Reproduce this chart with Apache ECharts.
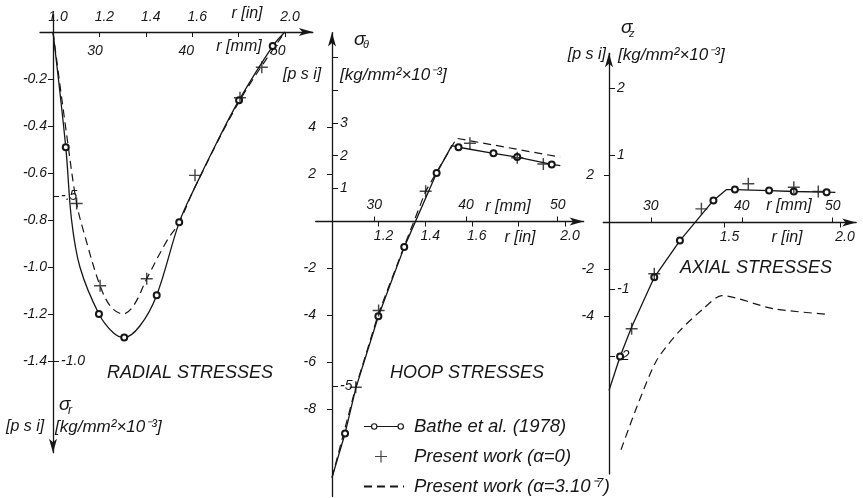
<!DOCTYPE html>
<html>
<head>
<meta charset="utf-8">
<script src="https://cdn.jsdelivr.net/npm/echarts@6/dist/echarts.min.js"></script>
<style>
  html, body { margin: 0; padding: 0; background: #fff; }
  #chart { width: 863px; height: 498px; }
</style>
</head>
<body>
<div id="chart"></div>
<script>
// Stress distributions across the wall: r in inches, stress in psi units.

// ---- radial stresses ----
const radialBathe = [[1.055, -0.49], [1.198, -1.20], [1.307, -1.30], [1.447, -1.12], [1.544, -0.81], [1.802, -0.29], [1.947, -0.06]];
const radialBatheTrace = [[1.0, 0], [1.08, -0.80], [1.116, -1.00], [1.26, -1.28], [1.375, -1.25], [1.612, -0.66], [1.706, -0.47], [2.0, 0]];
const radialPresent = [[1.102, -0.73], [1.203, -1.08], [1.404, -1.05], [1.612, -0.61], [1.806, -0.28], [1.90, -0.15]];
const radialAlpha = [[1.0, 0], [1.062, -0.46], [1.102, -0.73], [1.138, -0.87], [1.203, -1.08], [1.25, -1.17], [1.303, -1.20], [1.35, -1.16], [1.404, -1.05], [1.49, -0.89], [1.544, -0.81], [1.612, -0.66], [1.806, -0.29], [2.0, 0]];

// ---- hoop stresses ----
const hoopBathe = [[1.056, -9.02], [1.199, -4.03], [1.31, -1.09], [1.449, 2.06], [1.543, 3.16], [1.693, 2.90], [1.795, 2.74], [1.943, 2.43]];
const hoopBatheTrace = [[1.0, -10.9], [1.102, -7.1], [1.514, 3.23], [1.98, 2.38]];
const hoopPresent = [[1.102, -7.05], [1.20, -3.79], [1.402, 1.29], [1.592, 3.33], [1.795, 2.71], [1.907, 2.45]];
const hoopAlpha = [[1.0, -10.9], [1.102, -7.05], [1.20, -3.90], [1.31, -1.05], [1.402, 1.29], [1.449, 2.10], [1.535, 3.54], [1.979, 2.74]];

// ---- axial stresses ----
const axialBathe = [[1.048, -5.70], [1.196, -2.33], [1.307, -0.77], [1.452, 0.94], [1.545, 1.40], [1.693, 1.36], [1.80, 1.32], [1.942, 1.29]];
const axialBatheTrace = [[1.0, -7.15], [1.098, -4.45], [1.509, 1.40], [1.98, 1.28]];
const axialPresent = [[1.098, -4.52], [1.196, -2.18], [1.40, 0.58], [1.603, 1.65], [1.80, 1.50], [1.906, 1.32]];
const axialAlpha = [[1.052, -9.67], [1.12, -7.86], [1.206, -5.87], [1.307, -4.60], [1.408, -3.67], [1.488, -3.11], [1.711, -3.67], [1.95, -3.91]];

// ---- tick labels ----
const radialInLabels = [1.0, 1.2, 1.4, 1.6, 2.0];
const radialInTicks = [1.2, 1.4, 1.6, 1.8, 2.0];
const radialMmLabels = [30, 40, 50];
const radialPsiLabels = [-0.2, -0.4, -0.6, -0.8, -1.0, -1.2, -1.4];
const radialKgLabels = [-0.5, -1.0];

const hoopInLabels = [1.2, 1.4, 1.6, 2.0];
const hoopInTicks = [1.2, 1.4, 1.6, 1.8, 2.0];
const hoopMmLabels = [30, 40, 50];
const hoopPsiLabels = [4, 2, -2, -4, -6, -8];
const hoopKgLabels = [3, 2, 1, -5];
const hoopKgTicks = [5, 4, 3, 2, 1, -5];

const axialInLabels = [1.5, 2.0];
const axialMmLabels = [30, 40, 50];
const axialPsiLabels = [2, -2, -4];
const axialKgLabels = [2, 1, -1, -2];

const NAME_BATHE = 'Bathe et al. (1978)';
const NAME_P0 = 'Present work (α=0)';
const NAME_P3 = 'Present work (α=3.10⁻⁷)';

const FONT = "'Liberation Sans', Arial, sans-serif";
const INK = '#161616';
const MM_PER_IN = 25.4;
const CROSS = 'path://M4.4,0H5.6V4.4H10V5.6H5.6V10H4.4V5.6H0V4.4H4.4Z';
// legend glyphs laid out on a 40 x 14 box
const RING_LINE = 'path://M0,6.4H6.8V7.6H0Z' +
  'M6.8,7a3.2,3.2 0 1,0 6.4,0a3.2,3.2 0 1,0 -6.4,0Z' +
  'M7.9,7a2.1,2.1 0 1,1 4.2,0a2.1,2.1 0 1,1 -4.2,0Z' +
  'M13.2,6.4H32.8V7.6H13.2Z' +
  'M32.8,7a3.2,3.2 0 1,0 6.4,0a3.2,3.2 0 1,0 -6.4,0Z' +
  'M33.9,7a2.1,2.1 0 1,1 4.2,0a2.1,2.1 0 1,1 -4.2,0Z';
const CROSS_ICON = 'path://M0,0h0.01v0.01h-0.01Z' +
  'M16.4,1H17.6V6.4H23V7.6H17.6V13H16.4V7.6H11V6.4H16.4Z' +
  'M39.99,13.99h0.01v0.01h-0.01Z';

// frame of each panel: pixel of r = 1.0 in, px per inch, pixel of zero stress, px per psi unit
const panels = [
  { x1: 53, ppi: 232, xLo: 0.944, xHi: 2.12, y0: 32, ppu: 235, yLo: -1.79, yHi: 0.075, kgRatio: 1.4,
    inPos: 'top', mmPos: 'bottom', arrowUp: false, psiMargin: 6,
    inLabels: radialInLabels, inTicks: radialInTicks, mmLabels: radialMmLabels, mmTicks: [],
    psiLabels: radialPsiLabels, kgLabels: radialKgLabels, kgTicks: radialKgLabels,
    psiFmt: v => v.toFixed(1), kgFmt: v => (v === -0.5 ? '-.5' : v.toFixed(1)), inMargin: 8, mmMargin: 12,
    bathe: radialBathe, trace: radialBatheTrace, present: radialPresent, alpha: radialAlpha, smooth: 0.35, alphaSmooth: 0.35 },
  { x1: 332, ppi: 233, xLo: 0.93, xHi: 2.08, y0: 221.5, ppu: 23.5, yLo: -11.7, yHi: 8.04, kgRatio: 1.4,
    inPos: 'bottom', mmPos: 'top', arrowUp: true, psiMargin: 16,
    inLabels: hoopInLabels, inTicks: hoopInTicks, mmLabels: hoopMmLabels, mmTicks: hoopMmLabels,
    psiLabels: hoopPsiLabels, kgLabels: hoopKgLabels, kgTicks: hoopKgTicks,
    psiFmt: v => String(v), kgFmt: v => String(v), inMargin: 8, mmMargin: 9,
    bathe: hoopBathe, trace: hoopBatheTrace, present: hoopPresent, alpha: hoopAlpha, smooth: 0, alphaSmooth: 0 },
  { x1: 609, ppi: 231, xLo: 0.975, xHi: 2.07, y0: 222.5, ppu: 23.5, yLo: -10.7, yHi: 7.2, kgRatio: 2.85,
    inPos: 'bottom', mmPos: 'top', arrowUp: true, psiMargin: 15,
    inLabels: axialInLabels, inTicks: axialInLabels, mmLabels: axialMmLabels, mmTicks: axialMmLabels,
    psiLabels: axialPsiLabels, kgLabels: axialKgLabels, kgTicks: axialKgLabels,
    psiFmt: v => String(v), kgFmt: v => String(v), inMargin: 8, mmMargin: 9,
    bathe: axialBathe, trace: axialBatheTrace, present: axialPresent, alpha: axialAlpha, smooth: 0, alphaSmooth: 0.25 }
];

const labelStyle = { fontFamily: FONT, fontStyle: 'italic', fontSize: 14, color: INK };
const lineStyle = { color: INK, width: 1.3 };

const grids = [], xAxes = [], yAxes = [], series = [];

// offset that brings a top/bottom x axis onto the zero-stress line
function zeroOffset(p, pos) {
  return pos === 'top' ? -p.yHi * p.ppu : p.yLo * p.ppu;
}

panels.forEach((p, i) => {
  grids.push({
    left: p.x1 + (p.xLo - 1) * p.ppi,
    width: (p.xHi - p.xLo) * p.ppi,
    top: p.y0 - p.yHi * p.ppu,
    height: (p.yHi - p.yLo) * p.ppu,
    containLabel: false,
    outerBoundsMode: 'none'
  });
  const yOffset = -(1 - p.xLo) * p.ppi;

  // radius in inches (carries the arrow)
  xAxes.push({
    gridIndex: i, type: 'value', min: p.xLo, max: p.xHi, position: p.inPos, offset: zeroOffset(p, p.inPos),
    axisLine: { onZero: false, symbol: ['none', 'arrow'], symbolSize: [6, 14], lineStyle },
    axisTick: { customValues: p.inTicks, length: 5, inside: i === 0, lineStyle: { color: INK, width: 1 } },
    axisLabel: Object.assign({ customValues: p.inLabels, formatter: v => v.toFixed(1), margin: p.inMargin, padding: [0, 0, 0, 10] }, labelStyle),
    splitLine: { show: false }
  });
  // radius in millimetres
  xAxes.push({
    gridIndex: i, type: 'value', min: p.xLo * MM_PER_IN, max: p.xHi * MM_PER_IN, position: p.mmPos, offset: zeroOffset(p, p.mmPos),
    axisLine: { show: false, onZero: false },
    axisTick: { show: p.mmTicks.length > 0, customValues: p.mmTicks, length: 5, lineStyle: { color: INK, width: 1 } },
    axisLabel: Object.assign({ customValues: p.mmLabels, formatter: v => String(v), margin: p.mmMargin }, labelStyle),
    splitLine: { show: false }
  });
  // stress in psi
  yAxes.push({
    gridIndex: i, type: 'value', min: p.yLo, max: p.yHi, position: 'left', offset: yOffset,
    axisLine: { onZero: false, symbol: p.arrowUp ? ['none', 'arrow'] : ['arrow', 'none'], symbolSize: [6, 14], lineStyle },
    axisTick: { customValues: p.psiLabels, length: 5, lineStyle: { color: INK, width: 1 } },
    axisLabel: Object.assign({ customValues: p.psiLabels, formatter: p.psiFmt, margin: p.psiMargin }, labelStyle),
    splitLine: { show: false }
  });
  // stress in kg/mm2
  yAxes.push({
    gridIndex: i, type: 'value', min: p.yLo / p.kgRatio, max: p.yHi / p.kgRatio, position: 'left', offset: yOffset,
    axisLine: { show: false, onZero: false },
    axisTick: { customValues: p.kgTicks, inside: true, length: 6, lineStyle: { color: INK, width: 1 } },
    axisLabel: Object.assign({ customValues: p.kgLabels, formatter: p.kgFmt, inside: true, margin: 8 }, labelStyle),
    splitLine: { show: false }
  });

  const batheData = p.bathe.map(v => ({ value: v }))
    .concat(p.trace.map(v => ({ value: v, symbol: 'none' })))
    .sort((a, b) => a.value[0] - b.value[0]);

  series.push({
    name: NAME_BATHE, type: 'line', xAxisIndex: 2 * i, yAxisIndex: 2 * i,
    data: batheData, smooth: p.smooth, symbol: 'emptyCircle', symbolSize: 6, showAllSymbol: true,
    lineStyle: { color: INK, width: 1.3 }, itemStyle: { color: INK, borderWidth: 1 }, z: 3
  });
  series.push({
    name: NAME_P0, type: 'scatter', xAxisIndex: 2 * i, yAxisIndex: 2 * i,
    data: p.present, symbol: CROSS, symbolSize: 12, itemStyle: { color: INK }, z: 4
  });
  series.push({
    name: NAME_P3, type: 'line', xAxisIndex: 2 * i, yAxisIndex: 2 * i,
    data: p.alpha, smooth: p.alphaSmooth, symbol: 'none',
    lineStyle: { color: INK, width: 1.2, type: [8, 5] }, itemStyle: { color: INK }, z: 2
  });
});

function txt(x, y, text, size, align) {
  return {
    type: 'text', x, y, silent: true,
    style: { text, fill: INK, font: `italic ${size}px ${FONT}`, align: align || 'left', verticalAlign: 'middle' }
  };
}

const graphic = [
  // panel titles
  txt(107, 373, 'RADIAL STRESSES', 18),
  txt(390, 373, 'HOOP STRESSES', 18),
  txt(680, 268, 'AXIAL STRESSES', 18),
  // radius captions
  txt(247, 14, 'r [in]', 16, 'center'),
  txt(239, 47, 'r [mm]', 16, 'center'),
  txt(508, 207, 'r [mm]', 16, 'center'),
  txt(520, 238, 'r [in]', 16, 'center'),
  txt(789, 206, 'r [mm]', 16, 'center'),
  txt(787, 238, 'r [in]', 16, 'center'),
  // stress captions
  txt(59, 405, 'σ', 19), txt(68, 411, 'r', 12),
  txt(6, 427, '[p s i]', 16), txt(55, 427, '[kg/mm²×10⁻³]', 17),
  txt(354, 40, 'σ', 19), txt(363, 45, 'θ', 11),
  txt(283, 75, '[p s i]', 16), txt(340, 75, '[kg/mm²×10⁻³]', 17),
  txt(621, 28, 'σ', 19), txt(629, 34, 'z', 11),
  txt(606, 55, '[p s i]', 16, 'right'), txt(618, 55, '[kg/mm²×10⁻³]', 17)
];

const chart = echarts.init(document.getElementById('chart'), null, { renderer: 'canvas' });
chart.setOption({
  backgroundColor: '#fff',
  animation: false,
  grid: grids,
  xAxis: xAxes,
  yAxis: yAxes,
  series,
  graphic,
  legend: {
    orient: 'vertical', left: 363, top: 417, padding: 0, itemWidth: 40, itemHeight: 14, itemGap: 11,
    selectedMode: false,
    data: [
      { name: NAME_BATHE, icon: RING_LINE, itemStyle: { color: INK } },
      { name: NAME_P0, icon: CROSS_ICON, itemStyle: { color: INK } },
      { name: NAME_P3, itemStyle: { opacity: 0 } }
    ],
    textStyle: { fontFamily: FONT, fontStyle: 'italic', fontSize: 18.5, color: INK, padding: [0, 0, 0, 5] }
  }
});
</script>
</body>
</html>
